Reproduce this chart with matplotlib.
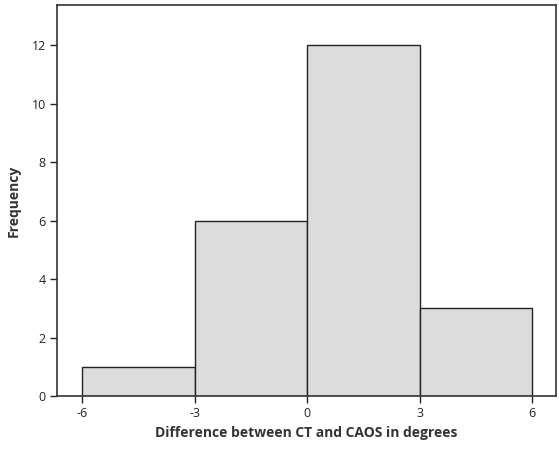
import numpy as np
import matplotlib
matplotlib.use("Agg")
import matplotlib.pyplot as plt

plt.rcParams['font.family'] = ['Open Sans', 'DejaVu Sans']
plt.rcParams['axes.unicode_minus'] = False

# histogram bins (degrees) and counts per bin
bin_edges = [-6, -3, 0, 3, 6]
counts = [1, 6, 12, 3]
x_ticks = [-6, -3, 0, 3, 6]
y_ticks = [0, 2, 4, 6, 8, 10, 12]

fig = plt.figure(figsize=(5.59, 4.51), dpi=100)
ax = fig.add_axes([57 / 559, 55 / 451, 499 / 559, 391 / 451])

left = bin_edges[:-1]
widths = np.diff(bin_edges)
ax.bar(left, counts, width=widths, align='edge', color='#dcdcdc',
       edgecolor='#222222', linewidth=1.0)

ax.set_xlim(-6.67, 6.64)
ax.set_ylim(0, 13.37)
ax.set_xticks(x_ticks)
ax.set_yticks(y_ticks)
ax.tick_params(direction='out', length=5, width=1, labelsize=9,
               colors='#222222', pad=3)
for s in ax.spines.values():
    s.set_linewidth(1.2)
    s.set_color('#333333')

ax.set_xlabel('Difference between CT and CAOS in degrees', fontsize=10,
              fontweight='bold', color='#333333', labelpad=4)
ax.set_ylabel('Frequency', fontsize=10, fontweight='bold', color='#333333',
              labelpad=8)

fig.savefig('out.png', dpi=100)
